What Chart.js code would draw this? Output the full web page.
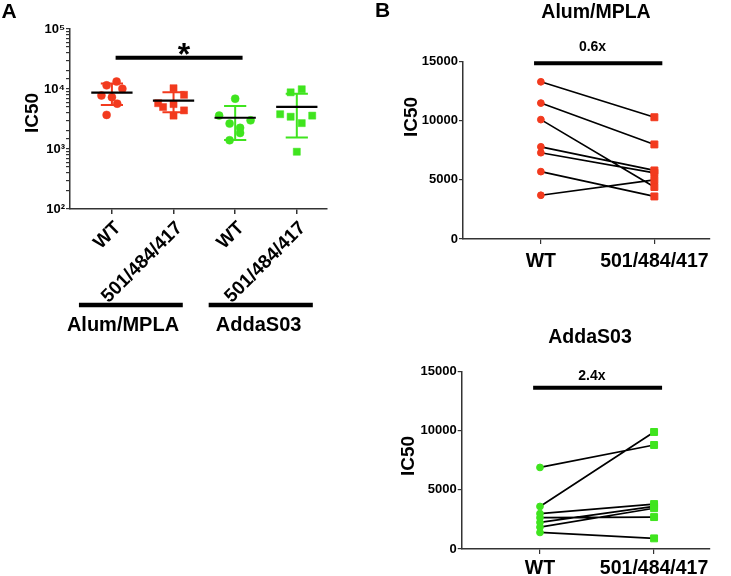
<!DOCTYPE html>
<html><head><meta charset="utf-8">
<script src="https://cdn.jsdelivr.net/npm/chart.js@4.4.0/dist/chart.umd.min.js"></script>
<style>
html,body{margin:0;padding:0;background:#fff;}
#wrap{position:relative;width:731px;height:576px;overflow:hidden;background:#fff;}
canvas{position:absolute;}
</style></head><body>
<div id="wrap">
<canvas id="cA" width="345" height="345" style="left:0px;top:0px"></canvas>
<canvas id="cB1" width="371" height="290" style="left:360px;top:0px"></canvas>
<canvas id="cB2" width="371" height="286" style="left:360px;top:290px"></canvas>
</div>
<script>
// ---------------- data ----------------
const categories = ['WT', '501/484/417'];
const adjuvants = ['Alum/MPLA', 'AddaS03'];
// paired samples (same index = same animal)
const alumWT  = [13300, 11500, 10100, 7800, 7300, 5700, 3700];
const alumMut = [10300, 8000, 4400, 5800, 5600, 3600, 5000];
const addaWT  = [6900, 3600, 3000, 2650, 2250, 1850, 1400];
const addaMut = [8800, 9900, 3800, 2700, 3600, 3450, 900];
// horizontal scatter (jitter) of each point in panel A, in category units
const jitAlumWT  = [0.076, -0.086, 0.17, -0.17, 0, 0.086, -0.086];
const jitAlumMut = [0, 0.17, 0.17, -0.25, 0, 0, -0.17];
const jitAddaWT  = [0, -0.26, 0.25, -0.09, 0.08, 0.08, -0.09];
const jitAddaMut = [-0.1, 0.08, -0.27, 0.08, 0.25, -0.1, 0];
// panel A summary (mean and SD bars)
const groupMean = [8700, 6380, 3320, 5040];
const groupSDHi = [12300, 8810, 5210, 8300];
const groupSDLo = [5400, 4090, 1410, 1550];
const yTicksA = [100, 1000, 10000, 100000];
const yTicksB = [0, 5000, 10000, 15000];
const foldLabels = ['0.6x', '2.4x'];
const sigLabel = '*';

const RED = '#F23A1E';
const GREEN = '#3FE41E';
const AXIS = '#333333';
const FONT = "'Liberation Sans', Arial, Helvetica, sans-serif";
Chart.defaults.font.family = FONT;
Chart.defaults.color = '#000';

function txt(ctx, s, x, y, size, rot, align) {
  ctx.save();
  ctx.translate(x, y);
  if (rot) ctx.rotate(rot);
  ctx.font = 'bold ' + size + 'px ' + FONT;
  ctx.fillStyle = '#000';
  ctx.textAlign = align || 'center';
  ctx.textBaseline = 'middle';
  ctx.fillText(s, 0, 0);
  ctx.restore();
}
function hbar(ctx, x1, x2, y, w) {
  ctx.save();
  ctx.strokeStyle = '#000';
  ctx.lineWidth = w;
  ctx.beginPath(); ctx.moveTo(x1, y); ctx.lineTo(x2, y); ctx.stroke();
  ctx.restore();
}

// ---------------- panel A ----------------
const groupsA = [
  {vals: alumWT,  jit: jitAlumWT,  color: RED,   style: 'circle', r: 4},
  {vals: alumMut, jit: jitAlumMut, color: RED,   style: 'rect',   r: 5},
  {vals: addaWT,  jit: jitAddaWT,  color: GREEN, style: 'circle', r: 4},
  {vals: addaMut, jit: jitAddaMut, color: GREEN, style: 'rect',   r: 5}
];
const xLabelsA = [categories[0], categories[1], categories[0], categories[1]];
const dsA = [];
groupsA.forEach((g, gi) => {
  dsA.push({
    data: g.vals.map((v, i) => ({x: gi + g.jit[i], y: v})),
    pointStyle: g.style, pointRadius: g.r, pointBackgroundColor: g.color,
    pointBorderColor: g.color, pointBorderWidth: 0.5, showLine: false, order: 3
  });
  const c = 0.18;
  dsA.push({
    data: [{x: gi - c, y: groupSDHi[gi]}, {x: gi + c, y: groupSDHi[gi]}, {x: gi, y: null},
           {x: gi, y: groupSDHi[gi]}, {x: gi, y: groupSDLo[gi]}, {x: gi, y: null},
           {x: gi - c, y: groupSDLo[gi]}, {x: gi + c, y: groupSDLo[gi]}],
    showLine: true, pointRadius: 0, borderColor: g.color, borderWidth: 2, order: 2
  });
  dsA.push({
    data: [{x: gi - 0.335, y: groupMean[gi]}, {x: gi + 0.335, y: groupMean[gi]}],
    showLine: true, pointRadius: 0, borderColor: '#000', borderWidth: 2.2, order: 1
  });
});

const sigBarA = [0.06, 2.12];
const sigStarX = 1.17;
const groupBarsA = [[-0.535, 1.15], [1.57, 3.26]];
const groupLabelX = [0.18, 2.38];

const annoA = {
  id: 'annoA',
  afterDraw(chart) {
    const ctx = chart.ctx, x = chart.scales.x;
    txt(ctx, 'A', 9, 12, 21);
    txt(ctx, 'IC50', 33, 113, 19, -Math.PI / 2);
    hbar(ctx, x.getPixelForValue(sigBarA[0]), x.getPixelForValue(sigBarA[1]), 57.7, 4);
    txt(ctx, sigLabel, x.getPixelForValue(sigStarX), 56, 32);
    groupBarsA.forEach((b, i) => {
      hbar(ctx, x.getPixelForValue(b[0]), x.getPixelForValue(b[1]), 305, 4.5);
      txt(ctx, adjuvants[i], x.getPixelForValue(groupLabelX[i]), 325, 20);
    });
  }
};
const sup = {2: '\u00B2', 3: '\u00B3', 4: '\u2074', 5: '\u2075'};

new Chart(document.getElementById('cA'), {
  type: 'scatter',
  data: {datasets: dsA},
  options: {
    responsive: false, animation: false, events: [],
    plugins: {legend: {display: false}, tooltip: {enabled: false}},
    layout: {padding: {left: 0, top: 29, right: 18, bottom: 0}},
    scales: {
      x: {
        type: 'linear', min: -0.68, max: 3.49,
        afterBuildTicks: s => { s.ticks = xLabelsA.map((l, i) => ({value: i})); },
        afterFit: s => { s.height = 136; },
        ticks: {callback: (v, i) => xLabelsA[i], minRotation: 45, maxRotation: 45, autoSkip: false,
                font: {size: 19, weight: 'bold'}, color: '#000', padding: 3, labelOffset: 6},
        grid: {drawOnChartArea: false, drawTicks: true, tickLength: 5, color: AXIS, lineWidth: 1.5},
        border: {display: true, color: AXIS, width: 1.5}
      },
      y: {
        type: 'logarithmic', min: yTicksA[0], max: yTicksA[yTicksA.length - 1],
        afterFit: s => { s.width = 70; },
        ticks: {
          autoSkip: false, padding: 1, font: {size: 13, weight: 'bold'}, color: '#000',
          callback: v => {
            const e = Math.round(Math.log10(v));
            return yTicksA.includes(v) ? '10' + sup[e] : '';
          }
        },
        grid: {drawOnChartArea: false, drawTicks: true, tickLength: 4, color: AXIS, lineWidth: 1.2},
        border: {display: true, color: AXIS, width: 1.5}
      }
    }
  },
  plugins: [annoA]
});

// ---------------- panel B ----------------
function pairedChart(id, wt, mut, color, opt) {
  const seg = [];
  wt.forEach((v, i) => { seg.push({x: 0, y: v}, {x: 1, y: mut[i]}, {x: 0.5, y: null}); });
  const anno = {
    id: 'anno' + id,
    afterDraw(chart) {
      const ctx = chart.ctx, x = chart.scales.x;
      if (opt.letter) txt(ctx, opt.letter, 22.5, 11, 21);
      txt(ctx, opt.title, opt.titleX, opt.titleY, 19.5);
      txt(ctx, 'IC50', opt.yTitleX, opt.yTitleY, 19, -Math.PI / 2);
      hbar(ctx, x.getPixelForValue(-0.06), x.getPixelForValue(1.07), opt.barY, 4);
      txt(ctx, opt.fold, x.getPixelForValue(0.455), opt.foldY, 14);
    }
  };
  new Chart(document.getElementById(id), {
    type: 'scatter',
    data: {datasets: [
      {data: wt.map(v => ({x: 0, y: v})), pointStyle: 'circle', pointRadius: 3.4,
       pointBackgroundColor: color, pointBorderColor: color, pointBorderWidth: 1, order: 1},
      {data: mut.map(v => ({x: 1, y: v})), pointStyle: 'rect', pointRadius: 4.9,
       pointBackgroundColor: color, pointBorderColor: color, pointBorderWidth: 1, order: 1},
      {data: seg, showLine: true, pointRadius: 0, borderColor: '#000', borderWidth: 1.7, order: 2}
    ]},
    options: {
      responsive: false, animation: false, events: [],
      plugins: {legend: {display: false}, tooltip: {enabled: false}},
      layout: {padding: {left: 0, top: opt.top, right: 21, bottom: 0}},
      scales: {
        x: {
          type: 'linear', min: -0.686, max: 1.49,
          afterBuildTicks: s => { s.ticks = categories.map((l, i) => ({value: i})); },
          afterFit: s => { s.height = opt.xh; },
          ticks: {callback: (v, i) => categories[i], maxRotation: 0, autoSkip: false,
                  font: {size: 19.5, weight: 'bold'}, color: '#000', padding: opt.xpad},
          grid: {drawOnChartArea: false, drawTicks: true, tickLength: 5, color: AXIS, lineWidth: 1.2},
          border: {display: true, color: AXIS, width: 1.5}
        },
        y: {
          min: yTicksB[0], max: yTicksB[yTicksB.length - 1],
          afterBuildTicks: s => { s.ticks = yTicksB.map(v => ({value: v})); },
          afterFit: s => { s.width = opt.yw; },
          ticks: {callback: v => String(v), padding: 1, font: {size: 13, weight: 'bold'}, color: '#000'},
          grid: {drawOnChartArea: false, drawTicks: true, tickLength: 4, color: AXIS, lineWidth: 1.2},
          border: {display: true, color: AXIS, width: 1.5}
        }
      }
    },
    plugins: [anno]
  });
}

pairedChart('cB1', alumWT, alumMut, RED, {
  letter: 'B', title: adjuvants[0], titleX: 236, titleY: 13, yTitleX: 51.5, yTitleY: 117,
  barY: 63.3, fold: foldLabels[0], foldY: 47.5, top: 61.7, xh: 51, yw: 103, xpad: 6
});
pairedChart('cB2', addaWT, addaMut, GREEN, {
  letter: null, title: adjuvants[1], titleX: 230, titleY: 48, yTitleX: 49, yTitleY: 166,
  barY: 97.7, fold: foldLabels[1], foldY: 86, top: 81.7, xh: 27, yw: 101.7, xpad: 3
});
</script>
</body></html>
